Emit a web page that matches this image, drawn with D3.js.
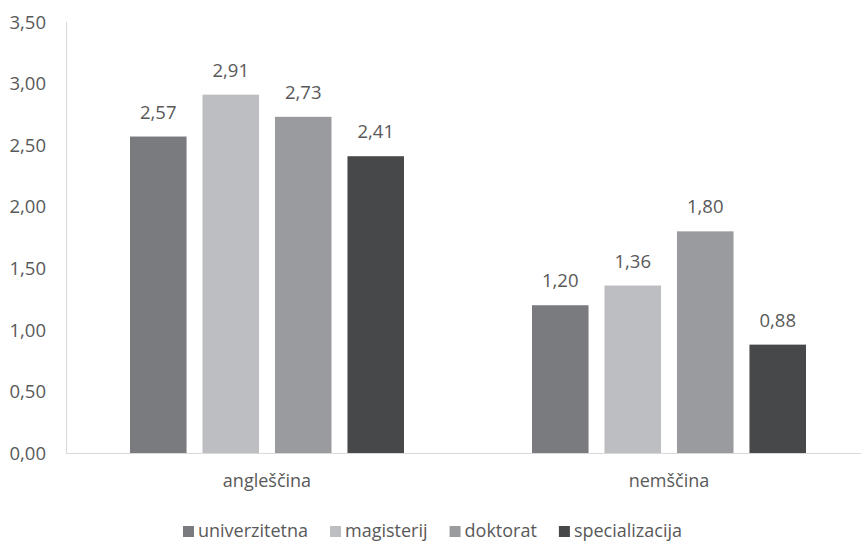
<!DOCTYPE html>
<html>
<head>
<meta charset="utf-8">
<script src="https://cdn.jsdelivr.net/npm/d3@7"></script>
<style>
  html, body { margin: 0; padding: 0; background: #fff; }
  text { font-family: "Open Sans", "Noto Sans", sans-serif; fill: #595959; }
</style>
</head>
<body>
<svg id="chart" width="861" height="541"></svg>
<script>
// Languages on the x axis
const categories = ["angleščina", "nemščina"];
// Education levels (one bar per level in each group)
const seriesNames = ["univerzitetna", "magisterij", "doktorat", "specializacija"];
const seriesColors = ["#7a7b7f", "#bdbec2", "#9a9b9f", "#47484a"];
// Average values per level, in the order of categories
const univerzitetna = [2.57, 1.20];
const magisterij = [2.91, 1.36];
const doktorat = [2.73, 1.80];
const specializacija = [2.41, 0.88];
const yTicks = [0, 0.5, 1, 1.5, 2, 2.5, 3, 3.5];

const seriesValues = [univerzitetna, magisterij, doktorat, specializacija];

const svg = d3.select("#chart");
const W = 861, H = 541;
const plotLeft = 66, plotTop = 22, plotBottom = 453;

const fmt = v => d3.format(".2f")(v).replace(".", ",");

const y = d3.scaleLinear().domain([0, 3.5]).range([plotBottom, plotTop]);
const x0 = d3.scaleBand().domain(categories).range([plotLeft, 870]).paddingInner(0).paddingOuter(0);
const x1 = d3.scaleBand().domain(seriesNames)
  .range([64, x0.bandwidth() - 64]).paddingInner(0.22).paddingOuter(0);

// y axis labels and line
const yAxis = svg.append("g");
yAxis.append("line")
  .attr("x1", plotLeft + 0.5).attr("x2", plotLeft + 0.5)
  .attr("y1", plotTop).attr("y2", plotBottom)
  .attr("stroke", "#d9d9d9").attr("stroke-width", 1);
yAxis.selectAll("text").data(yTicks).join("text")
  .attr("x", 46)
  .attr("y", d => y(d))
  .attr("dy", "0.36em")
  .attr("text-anchor", "end")
  .style("font-size", "18.5px")
  .text(fmt);

// bars
const groups = svg.append("g").selectAll("g").data(categories).join("g")
  .attr("transform", c => `translate(${x0(c)},0)`);

groups.each(function(c, ci) {
  const g = d3.select(this);
  const rows = seriesNames.map((s, si) => ({ s, si, v: seriesValues[si][ci] }));
  g.selectAll("rect").data(rows).join("rect")
    .attr("x", d => x1(d.s))
    .attr("y", d => y(d.v))
    .attr("width", x1.bandwidth())
    .attr("height", d => plotBottom - y(d.v))
    .attr("fill", d => seriesColors[d.si]);
  g.selectAll("text.val").data(rows).join("text")
    .attr("class", "val")
    .attr("x", d => x1(d.s) + x1.bandwidth() / 2)
    .attr("y", d => y(d.v) - 18)
    .attr("text-anchor", "middle")
    .style("font-size", "18.5px")
    .text(d => fmt(d.v));
});

// baseline
svg.append("line")
  .attr("x1", plotLeft).attr("x2", W)
  .attr("y1", plotBottom + 0.5).attr("y2", plotBottom + 0.5)
  .attr("stroke", "#d9d9d9").attr("stroke-width", 1);

// category labels
svg.append("g").selectAll("text").data(categories).join("text")
  .attr("x", c => x0(c) + x0.bandwidth() / 2)
  .attr("y", 487)
  .attr("text-anchor", "middle")
  .style("font-size", "18px")
  .text(c => c);

// legend
const legend = svg.append("g");
let lx = 0;
const items = legend.selectAll("g").data(seriesNames).join("g");
items.append("rect").attr("width", 11).attr("height", 11).attr("y", -11)
  .attr("fill", (d, i) => seriesColors[i]);
items.append("text").attr("x", 15).attr("y", 0)
  .style("font-size", "18px").text(d => d);
items.each(function() {
  const w = this.getBBox().width;
  d3.select(this).attr("transform", `translate(${lx},0)`);
  lx += w + 22;
});
const totalW = lx - 22;
legend.attr("transform", `translate(${(W - totalW) / 2 + 2},537)`);
</script>
</body>
</html>
